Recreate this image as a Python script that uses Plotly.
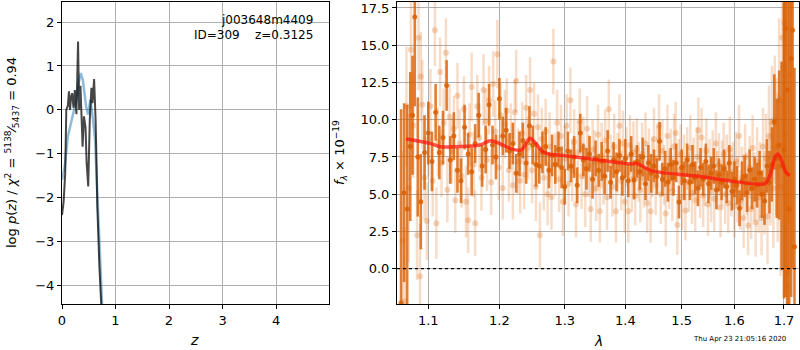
import plotly.graph_objects as go

# ---------------- left panel: log p(z) ----------------
z_pz = [0.0, 0.03, 0.06, 0.08, 0.11, 0.13, 0.15, 0.17, 0.19, 0.215, 0.24, 0.27, 0.30, 0.32,
        0.345, 0.37, 0.385, 0.41, 0.44, 0.46, 0.49, 0.52, 0.55, 0.57, 0.60, 0.63, 0.66, 0.70, 0.74]
logp = [-2.4, -2.1, -1.45, 0.0, 0.1, 0.42, 0.0, 0.3, 0.38, 0.05, 0.45, -0.1, 1.56, 0.0,
        0.55, -0.2, -0.84, -0.15, -0.4, -1.2, -1.75, -0.2, 0.5, 0.15, 0.7, -0.3, -2.2, -3.6, -4.6]

z_chi = [0.0, 0.05, 0.11, 0.2, 0.27, 0.31, 0.35, 0.39, 0.45, 0.49, 0.53, 0.58, 0.62, 0.66, 0.70, 0.755]
chi = [-1.6, -1.3, -0.6, -0.15, 0.23, 0.6, 0.84, 0.68, 0.08, -0.11, 0.23, -0.23, -0.7, -1.9, -3.1, -4.6]

# ---------------- right panel: spectrum (binned, dark) ----------------
lam_d = [1.064, 1.068, 1.072, 1.076, 1.079, 1.082, 1.086, 1.090, 1.095,
         1.100, 1.105, 1.110, 1.115, 1.120, 1.125, 1.130, 1.135, 1.140, 1.145,
         1.150, 1.155, 1.160, 1.165, 1.170, 1.175, 1.180, 1.185, 1.190, 1.195,
         1.200, 1.205, 1.210, 1.215, 1.220, 1.225, 1.230, 1.235, 1.240, 1.245,
         1.250, 1.255, 1.260, 1.265, 1.270, 1.275, 1.280, 1.285, 1.290, 1.295,
         1.300, 1.305, 1.310, 1.315, 1.320, 1.325, 1.330, 1.335, 1.340, 1.345,
         1.350, 1.355, 1.360, 1.365, 1.370, 1.375, 1.380, 1.385, 1.390, 1.395,
         1.400, 1.405, 1.410, 1.415, 1.420, 1.425, 1.430, 1.435, 1.440, 1.445,
         1.450, 1.455, 1.460, 1.465, 1.470, 1.475, 1.480, 1.485, 1.490, 1.495,
         1.500, 1.505, 1.510, 1.515, 1.520, 1.525, 1.530, 1.535, 1.540, 1.545,
         1.550, 1.555, 1.560, 1.565, 1.570, 1.575, 1.580, 1.585, 1.590, 1.595,
         1.600, 1.605, 1.610, 1.615, 1.620, 1.625, 1.630, 1.635, 1.640, 1.645,
         1.650, 1.655, 1.660, 1.665, 1.670, 1.675, 1.680, 1.685, 1.690,
         1.695, 1.700, 1.703, 1.707, 1.711, 1.715, 1.718, 1.722]
flux_d = [-2.3, 5.1, 4.0, 8.2, 10.3, 16.9, 7.5, 4.5, 7.8,
          9.1, 7.2, 10.5, 7.8, 8.8, 12.3, 7.3, 8.9, 6.6, 5.9,
          9.5, 7.7, 6.5, 8.4, 10.3, 6.9, 8.0, 11.0, 8.3, 7.5,
          11.4, 8.9, 9.3, 7.9, 8.4, 6.4, 7.7, 8.6, 7.1, 9.6,
          8.3, 7.0, 6.9, 7.8, 8.2, 6.6, 7.6, 7.0, 8.0, 6.8,
          5.5, 7.9, 6.9, 7.5, 5.6, 9.1, 7.3, 6.7, 7.7, 6.0,
          7.4, 6.6, 7.2, 6.2, 7.9, 5.8, 7.3, 6.5, 7.6, 6.1,
          7.4, 5.9, 7.7, 5.95, 7.2, 6.5, 7.5, 5.7, 7.1, 6.4,
          6.9, 6.2, 8.55, 6.0, 6.7, 5.8, 7.0, 6.1, 7.1, 4.47,
          6.8, 5.9, 7.3, 5.8, 7.0, 6.1, 5.4, 6.8, 6.0, 7.2,
          5.7, 6.4, 6.9, 5.3, 6.3, 5.8, 6.7, 5.5, 7.1, 5.2,
          6.0, 5.6, 4.05, 5.9, 6.2, 5.1, 6.6, 5.4, 6.0, 5.6,
          6.4, 5.0, 4.54, 6.9, 5.8, 7.0, 9.85, 7.4, 8.3,
          6.9, 8.0, 16.1, 12.0, 4.0, 14.1, 16.0, 1.48]
err_d = [13, 6, 7, 5, 4, 6, 4, 3.2, 2.5,
         2.1, 2.0, 1.9, 1.8, 1.8, 1.7, 1.6, 1.6, 1.5, 1.5,
         1.5, 1.4, 1.6, 1.3, 1.5, 1.4, 1.6, 1.4, 1.3, 1.5,
         1.4, 1.3, 1.5, 1.2, 1.4, 1.3, 1.5, 1.2, 1.4, 1.3,
         1.3, 1.5, 1.2, 1.4, 1.3, 1.2, 1.4, 1.3, 1.2, 1.4,
         1.2, 1.3, 1.1, 1.4, 1.2, 1.3, 1.1, 1.4, 1.2, 1.3,
         1.2, 1.1, 1.3, 1.2, 1.4, 1.1, 1.2, 1.3, 1.1, 1.2,
         1.3, 1.1, 1.2, 1.3, 1.1, 1.2, 1.3, 1.1, 1.2, 1.3,
         1.1, 1.2, 1.3, 1.1, 1.2, 1.3, 1.1, 1.2, 1.3, 1.1,
         1.2, 1.3, 1.1, 1.2, 1.3, 1.1, 1.2, 1.3, 1.1, 1.2,
         1.3, 1.1, 1.2, 1.3, 1.1, 1.2, 1.3, 1.1, 1.2, 1.3,
         1.2, 1.3, 1.2, 1.3, 1.4, 1.3, 1.4, 1.4, 1.5, 1.5,
         1.5, 1.6, 1.6, 1.8, 2.1, 2.5, 3.2, 4.0, 5.0,
         7, 10, 18, 15, 14, 16, 16, 12]

# ---------------- right panel: individual beam pixels (light) ----------------
lam_l = [1.066, 1.069, 1.071, 1.074, 1.077, 1.080, 1.085, 1.087, 1.089, 1.090, 1.092, 1.095, 1.098, 1.100,
         1.103, 1.106, 1.109, 1.111, 1.113, 1.116, 1.118, 1.121, 1.124, 1.126, 1.129, 1.132, 1.135, 1.137,
         1.140, 1.143, 1.146, 1.149, 1.152, 1.155, 1.157, 1.160, 1.163, 1.165, 1.168, 1.171, 1.174, 1.177,
         1.180, 1.182, 1.185, 1.188, 1.191, 1.194, 1.197, 1.199, 1.202, 1.205, 1.208, 1.211, 1.214, 1.217,
         1.220, 1.223, 1.225, 1.228, 1.231, 1.234, 1.237, 1.240, 1.243, 1.246, 1.249, 1.252, 1.255, 1.258,
         1.261, 1.264, 1.267, 1.270, 1.273, 1.276, 1.279, 1.282, 1.285, 1.288, 1.291, 1.294, 1.297, 1.300,
         1.303, 1.306, 1.309, 1.312, 1.315, 1.318, 1.321, 1.324, 1.327, 1.330, 1.333, 1.336, 1.339, 1.342,
         1.345, 1.348, 1.351, 1.354, 1.357, 1.360, 1.363, 1.366, 1.369, 1.372, 1.375, 1.378, 1.381, 1.384,
         1.387, 1.390, 1.393, 1.396, 1.399, 1.402, 1.405, 1.408, 1.411, 1.414, 1.417, 1.420, 1.423, 1.426,
         1.429, 1.432, 1.435, 1.438, 1.441, 1.444, 1.447, 1.450, 1.453, 1.456, 1.459, 1.462, 1.465, 1.468,
         1.471, 1.474, 1.477, 1.480, 1.483, 1.486, 1.489, 1.492, 1.495, 1.498, 1.501, 1.504, 1.507, 1.510,
         1.513, 1.516, 1.519, 1.522, 1.525, 1.528, 1.531, 1.534, 1.537, 1.540, 1.543, 1.546, 1.549, 1.552,
         1.555, 1.558, 1.561, 1.564, 1.567, 1.570, 1.573, 1.576, 1.579, 1.582, 1.585, 1.588, 1.591, 1.594,
         1.597, 1.600, 1.603, 1.606, 1.609, 1.612, 1.615, 1.618, 1.621, 1.624, 1.627, 1.630, 1.633, 1.636,
         1.639, 1.642, 1.645, 1.648, 1.651, 1.654, 1.657, 1.660, 1.663, 1.666, 1.669, 1.672, 1.675, 1.678,
         1.681, 1.684, 1.687, 1.690, 1.693, 1.696, 1.699, 1.701, 1.703, 1.705, 1.708, 1.711]
flux_l = [1.9, -2.2, 10.9, 5.4, 14.7, 9.6, 2.25, 15.5, -0.5, 12.9, 11.0, 6.1, 3.2, 8.7,
          10.9, 5.9, 16.0, 3.05, 8.5, 13.2, 7.1, 9.8, 14.5, 5.3, 10.2, 7.9, 9.4, 4.6,
          11.6, 8.4, 6.2, 10.7, 4.5, 3.25, 9.0, 12.2, 7.0, 3.05, 10.9, 8.8, 6.1, 12.0,
          9.9, 7.3, 11.3, 5.8, 12.4, 9.2, 14.4, 6.8, 10.3, 5.4, 9.7, 10.6, 6.6, 8.9,
          5.6, 10.5, 12.6, 7.2, 5.9, 9.1, 6.3, 10.8, 8.1, 12.0, 6.6, 10.4, 5.5, 9.5,
          2.25, 8.7, 6.1, 9.2, 5.0, 8.2, 4.8, 13.9, 7.0, 9.8, 6.0, 8.9, 4.5, 7.4,
          9.6, 5.7, 11.3, 6.6, 8.5, 4.3, 7.8, 9.9, 6.2, 8.1, 5.0, 9.4, 6.9, 4.0,
          8.0, 7.2, 5.4, 9.0, 3.85, 7.6, 6.3, 8.6, 4.8, 10.7, 6.9, 5.5, 8.2, 3.85,
          7.1, 9.6, 5.9, 8.4, 4.5, 7.5, 3.85, 8.3, 6.0, 7.8, 4.9, 8.0, 6.5, 5.3,
          7.7, 6.1, 8.4, 4.4, 7.2, 3.85, 6.8, 8.7, 5.6, 7.4, 9.6, 5.0, 7.9, 6.3,
          3.7, 8.9, 6.0, 7.3, 5.2, 8.2, 9.1, 2.93, 6.6, 7.7, 4.8, 6.9, 3.9, 7.4,
          5.8, 8.1, 5.1, 6.8, 4.6, 7.5, 9.3, 5.5, 8.8, 4.9, 6.2, 7.9, 4.3, 6.7,
          5.2, 7.3, 4.7, 8.4, 5.9, 7.0, 4.1, 6.4, 7.7, 5.0, 6.9, 4.4, 8.0, 5.6,
          6.5, 4.2, 7.2, 5.3, 8.9, 4.6, 6.1, 3.4, 7.5, 5.7, 2.9, 6.8, 4.0, 8.1,
          5.5, 3.1, 7.2, 4.8, 6.0, 3.4, 8.2, 5.1, 7.4, 3.5, 8.9, 6.5, 9.8, 5.4,
          10.0, 8.2, 6.8, 11.3, 5.5, 15.5, 13.5, 16.5, 9.0, -1.2, -0.3, 13.0]
err_l = [6, 5, 4, 5, 4, 3.5, 3, 3.5, 3.5, 3, 3, 2.8, 2.6, 2.5,
         2.5, 2.4, 2.4, 2.4, 2.3, 2.3, 2.3, 2.3, 2.3, 2.2, 2.2, 2.2, 2.2, 2.2,
         2.2, 2.3, 2.1, 2.2, 2.4, 2.2, 2.1, 2.3, 2.2, 2.2, 2.1, 2.3, 2.2, 2.4,
         2.2, 2.1, 2.3, 2.2, 2.2, 2.1, 2.3, 2.2, 2.2, 2.1, 2.3, 2.2, 2.1, 2.2,
         2.3, 2.2, 2.1, 2.2, 2.2, 2.1, 2.3, 2.2, 2.1, 2.2, 2.2, 2.1, 2.3, 2.2,
         2.2, 2.1, 2.2, 2.2, 2.1, 2.3, 2.2, 2.2, 2.1, 2.2, 2.2, 2.1, 2.3, 2.2,
         2.1, 2.2, 2.2, 2.1, 2.2, 2.2, 2.1, 2.2, 2.2, 2.1, 2.2, 2.2, 2.1, 2.2,
         2.0, 2.1, 2.2, 2.0, 2.1, 2.2, 2.0, 2.1, 2.2, 2.0, 2.1, 2.0, 2.2, 2.1,
         2.0, 2.1, 2.0, 2.2, 2.1, 2.0, 2.1, 2.0, 2.2, 2.1, 2.0, 2.1, 2.0, 2.2,
         2.1, 2.0, 2.1, 2.0, 2.2, 2.1, 2.0, 2.1, 2.0, 2.2, 2.1, 2.0, 2.1, 2.0,
         2.2, 2.1, 2.0, 2.1, 2.0, 2.2, 2.1, 2.0, 2.1, 2.0, 2.2, 2.1, 2.0, 2.1,
         2.0, 2.2, 2.1, 2.0, 2.1, 2.0, 2.2, 2.1, 2.0, 2.1, 2.0, 2.2, 2.1, 2.0,
         2.1, 2.0, 2.2, 2.1, 2.0, 2.1, 2.0, 2.2, 2.1, 2.0, 2.1, 2.0, 2.2, 2.1,
         2.0, 2.1, 2.0, 2.2, 2.1, 2.0, 2.1, 2.0, 2.2, 2.1, 2.0, 2.1, 2.0, 2.2,
         2.3, 2.3, 2.3, 2.4, 2.5, 2.5, 2.6, 2.8, 3.0, 3.2, 3.4, 3.6, 3.8, 4.0,
         4.3, 4.6, 5.0, 5.5, 6.0, 8.0, 9.0, 10.0, 10.0, 8.0, 8.0, 10.0]

# ---------------- right panel: best-fit model ----------------
lam_m = [1.0706, 1.102, 1.1158, 1.139, 1.1715, 1.1873, 1.2015, 1.2203, 1.2329, 1.2456, 1.2508,
         1.2662, 1.2768, 1.2987, 1.3546, 1.4107, 1.4194, 1.4457, 1.4689, 1.5275, 1.5917, 1.6443,
         1.6612, 1.6701, 1.682, 1.6869, 1.696, 1.7032, 1.7123]
flux_m = [8.70, 8.41, 8.19, 8.19, 8.30, 8.59, 8.37, 8.01, 7.98, 8.75, 8.60,
          7.85, 7.68, 7.60, 7.30, 7.03, 7.06, 6.58, 6.43, 6.22, 5.89, 5.68,
          5.72, 6.18, 7.52, 7.70, 7.18, 6.51, 6.24]

z_ticks = [0, 1, 2, 3, 4]
lnp_ticks = [-4, -3, -2, -1, 0, 1, 2]
lam_ticks = [1.1, 1.2, 1.3, 1.4, 1.5, 1.6, 1.7]
lam_ticktext = ["1.1", "1.2", "1.3", "1.4", "1.5", "1.6", "1.7"]
f_ticks = [0.0, 2.5, 5.0, 7.5, 10.0, 12.5, 15.0, 17.5]

FONT = "DejaVu Sans"
W, H = 800, 350
T, B = 2, 46
PH = H - T - B

fig = go.Figure()

# left panel
fig.add_trace(go.Scatter(x=z_chi, y=chi, mode="lines", xaxis="x", yaxis="y",
                         line=dict(color="rgba(31,119,180,0.5)", width=2.5), showlegend=False))
fig.add_trace(go.Scatter(x=z_pz, y=logp, mode="lines", xaxis="x", yaxis="y",
                         line=dict(color="rgba(0,0,0,0.72)", width=2), showlegend=False))

# right panel
fig.add_trace(go.Scatter(x=lam_l, y=flux_l, mode="markers", xaxis="x2", yaxis="y2",
                         marker=dict(color="rgba(217,95,2,0.25)", size=6, line=dict(width=0)),
                         error_y=dict(type="data", array=err_l, visible=True,
                                      color="rgba(217,95,2,0.22)", thickness=2.5, width=0),
                         showlegend=False))
fig.add_trace(go.Scatter(x=lam_d, y=flux_d, mode="markers", xaxis="x2", yaxis="y2",
                         marker=dict(color="rgba(217,95,2,0.85)", size=5, line=dict(width=0)),
                         error_y=dict(type="data", array=err_d, visible=True,
                                      color="rgba(217,95,2,0.8)", thickness=2.6, width=0),
                         showlegend=False))
fig.add_trace(go.Scatter(x=[1.0587, 1.7315], y=[0, 0], mode="lines", xaxis="x2", yaxis="y2",
                         line=dict(color="black", width=1.3, dash="dot"), showlegend=False))
fig.add_trace(go.Scatter(x=lam_m, y=flux_m, mode="lines", xaxis="x2", yaxis="y2",
                         line=dict(color="rgba(255,20,10,0.72)", width=3.5, shape="spline"),
                         showlegend=False))

axcommon = dict(showline=True, linecolor="black", linewidth=1, mirror=True,
                ticks="outside", ticklen=4, tickcolor="black", tickwidth=1,
                showgrid=True, gridcolor="#b0b0b0", gridwidth=1, zeroline=False,
                automargin=False,
                tickfont=dict(family=FONT, size=13, color="black"))

fig.update_layout(
    width=W, height=H,
    margin=dict(l=0, r=0, t=T, b=B, pad=0, autoexpand=False),
    paper_bgcolor="white", plot_bgcolor="white",
    font=dict(family=FONT, size=13, color="black"),
    xaxis=dict(domain=[62 / W, 329 / W], range=[0, 4.99], tickvals=z_ticks, anchor="y", **axcommon),
    yaxis=dict(domain=[0, 1], range=[-4.43, 2.46], tickvals=lnp_ticks, anchor="x", **axcommon),
    xaxis2=dict(domain=[397 / W, 799 / W], type="log", range=[0.02478, 0.23843],
                tickvals=lam_ticks, ticktext=lam_ticktext, anchor="y2", **axcommon),
    yaxis2=dict(domain=[0, 1], range=[-2.37, 17.9], tickvals=f_ticks, tickformat=".1f",
                anchor="x2", **axcommon),
)

def py(p):
    return (H - B - p) / PH

nb = "\u00a0"
ann = [
    dict(x=315 / W, y=py(20), text="j003648m4409", xanchor="right", yanchor="middle", font=dict(size=12)),
    dict(x=315 / W, y=py(35), text="ID=309" + nb * 4 + "z=0.3125", xanchor="right", yanchor="middle",
         font=dict(size=12)),
    dict(x=12 / W, y=py(153), text="log <i>p</i>(<i>z</i>) / <i>χ</i><sup>2</sup> = "
         "<sup>5138</sup>⁄<sub>5437</sub> = 0.94", textangle=-90, xanchor="center", yanchor="middle",
         font=dict(size=13)),
    dict(x=194 / W, y=py(340), text="<i>z</i>", xanchor="center", yanchor="middle", font=dict(size=14)),
    dict(x=598 / W, y=py(341), text="<i>λ</i>", xanchor="center", yanchor="middle", font=dict(size=14)),
    dict(x=340 / W, y=py(153), text="<i>f</i><sub><i>λ</i></sub> × 10<sup>−19</sup>", textangle=-90,
         xanchor="center", yanchor="middle", font=dict(size=13)),
    dict(x=788 / W, y=py(339), text="Thu Apr 23 21:05:16 2020", xanchor="right", yanchor="middle",
         font=dict(size=7)),
]
for a in ann:
    a.update(xref="paper", yref="paper", showarrow=False)
fig.update_layout(annotations=ann)

fig.write_html("out.html", config={"displayModeBar": False},
               post_script="document.body.style.margin='0px';")
